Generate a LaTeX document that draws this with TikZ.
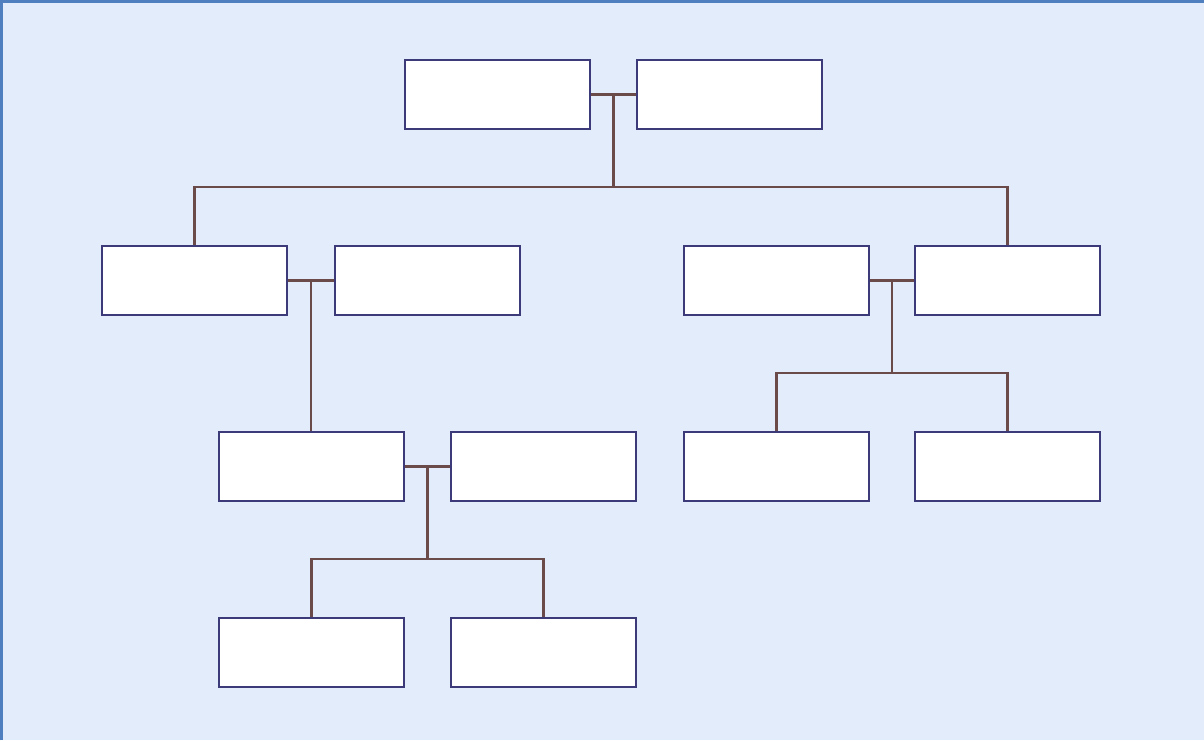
\documentclass[tikz,border=0pt]{standalone}
\usetikzlibrary{calc}
\definecolor{bg}{HTML}{E3ECFB}
\definecolor{frame}{HTML}{4F7FBE}
\definecolor{boxline}{HTML}{3C3A78}
\definecolor{conn}{HTML}{6B4A4A}
\begin{document}
\begin{tikzpicture}[x=1pt,y=-1pt,
  person/.style={draw=boxline,fill=white,line width=2pt,minimum width=185pt,minimum height=69pt,inner sep=0pt,anchor=north west},
  link/.style={draw=conn,line width=2.4pt}]
\fill[bg] (0,0) rectangle (1204,740);
\useasboundingbox (0,0) rectangle (1204,740);
\draw[frame,line width=3pt] (1.5,740) -- (1.5,1.5) -- (1204,1.5);
% row 1
\node[person] (a1) at (404,59) {};
\node[person] (a2) at (636,59) {};
% row 2
\node[person] (b1) at (101,245) {};
\node[person] (b2) at (334,245) {};
\node[person] (b3) at (683,245) {};
\node[person] (b4) at (914,245) {};
% row 3
\node[person] (c1) at (218,431) {};
\node[person] (c2) at (450,431) {};
\node[person] (c3) at (683,431) {};
\node[person] (c4) at (914,431) {};
% row 4
\node[person] (d1) at (218,617) {};
\node[person] (d2) at (450,617) {};
% couple lines
\draw[link] (a1.east) -- coordinate (ma) (a2.west);
\draw[link] (b1.east) -- coordinate (mb) (b2.west);
\draw[link] (b3.east) -- coordinate (mc) (b4.west);
\draw[link] (c1.east) -- coordinate (md) (c2.west);
% descendants
\coordinate (ya) at (0,187);
\draw[link] (ma) -- (ma |- ya);
\draw[link] (b1.north) |- (ma |- ya) -| (b4.north);
\draw[link] (mb) -- (mb |- c1.north);
\coordinate (yc) at (0,373);
\draw[link] (mc) -- (mc |- yc);
\draw[link] (c3.north) |- (mc |- yc) -| (c4.north);
\coordinate (yd) at (0,559);
\draw[link] (md) -- (md |- yd);
\draw[link] (d1.north) |- (md |- yd) -| (d2.north);
\end{tikzpicture}
\end{document}
